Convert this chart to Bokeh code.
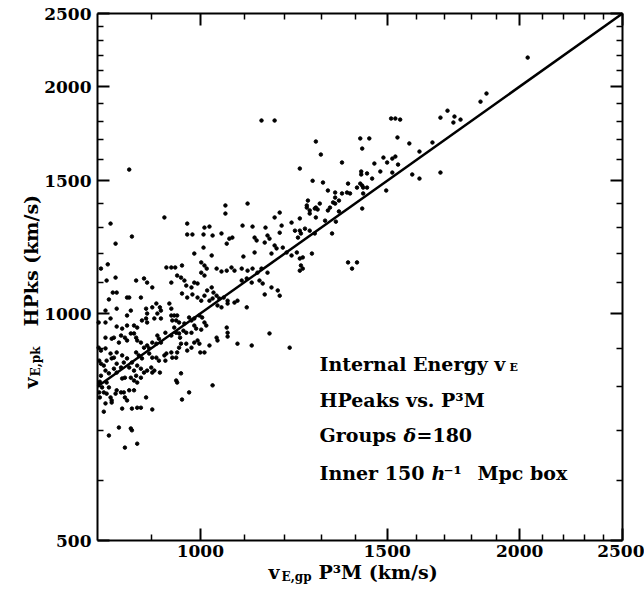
import math
from bokeh.plotting import figure
from bokeh.models import Range1d, FixedTicker, LogAxis, Label, CustomJSTickFormatter, NumeralTickFormatter
from bokeh.embed import file_html
from bokeh.resources import INLINE

# v_E of groups: P3M (x) vs HPeaks (y), km/s
v_gp = [2035, 1861, 1837, 1684, 1710, 1736, 1732, 1759, 1513, 1527, 1543, 1285, 1299, 1415, 1443, 1421,
        1534, 1574, 1655, 1609, 1488, 1500, 1517, 1527, 1459, 1360, 1478, 1517, 1536, 1418, 1418, 1436,
        1452, 1584, 1609, 1684, 1241, 1276, 1305, 1319, 1340, 1340, 1360, 1375, 1384, 1378, 1405, 1415,
        1421, 1424, 1436, 1424, 1497, 1334, 1351, 1296, 1285, 1290, 1260, 1263, 1268, 1241, 1325, 1351,
        1342, 1421, 1285, 1241, 1255, 1268, 1331, 1244,
        925, 823, 862, 832, 806, 818, 816, 832, 972, 1056, 1056, 1108, 1009, 1020, 972, 983,
        1007, 1027, 1047, 987, 1025, 1007, 1059, 1065, 1072, 1096, 1120, 1152, 1175, 1188, 1125, 1130,
        1157, 1162, 1188, 1193, 1219, 1228, 1236, 1150, 1175, 1098, 1125, 1167, 1180, 1196, 1206, 1219,
        1233, 1241, 1249, 1274, 1244, 1249, 1241, 1282, 1311, 1319, 1340, 1268, 1260, 1282,
        961, 947, 929, 939, 1009, 1002, 1014, 1036, 1047, 1059, 1070, 1077, 1094, 1108, 1120, 1132,
        1142, 1157, 1094, 1106, 1118, 1137, 1145, 1167, 1183, 1188, 1150, 870, 885, 891, 901, 853,
        857, 820, 827, 834, 879, 939, 951, 959, 966, 970, 981, 987, 994, 1002, 1009, 961,
        972, 983, 994, 1002, 1009, 1015, 1025, 1029, 1020, 1027, 1036, 1042, 1052, 1038, 1047, 1061,
        1061, 1077, 1084, 1106, 814, 834, 853, 860, 889, 891, 901, 909, 916, 918, 935, 939,
        945, 951, 911, 905, 918, 802, 814, 823, 834, 844, 853, 866, 872, 881, 889, 891,
        939, 941, 949, 955, 966, 976, 981, 987, 998, 1004, 964, 970, 981, 987, 991, 1002,
        1009, 1013, 955, 957, 945, 949, 927, 939, 911, 914, 918, 901, 909, 891, 895, 885,
        872, 879, 866, 870, 860, 849, 853, 842, 838, 825, 829, 814, 802, 806, 814, 823,
        829, 834, 844, 853, 862, 870, 875, 881, 895, 901, 909, 914, 925, 929, 927, 939,
        941, 949, 951, 955, 959, 970, 972, 981, 987, 994, 998, 1000, 1009, 1020, 1036, 1038,
        1059, 1061, 1061, 1084, 1118, 1162, 1214, 803, 806, 811, 816, 825, 834, 842, 847, 857,
        866, 870, 872, 879, 885, 891, 899, 901, 905, 916, 806, 814, 820, 829, 834, 844,
        849, 860, 866, 872, 879, 803, 804, 808, 816, 820, 811, 816, 823, 825, 832, 834,
        842, 847, 849, 853, 857, 866, 803, 804, 814, 825, 844, 862, 872, 879, 901, 889,
        951, 949, 959, 976, 961, 1027, 811, 820, 838, 860, 862, 849, 872,
        857, 1142, 1175, 1378, 1390, 1405]

v_pk = [2185, 1958, 1910, 1819, 1858, 1825, 1792, 1808, 1814, 1814, 1808, 1691, 1625, 1707, 1707, 1655,
        1712, 1681, 1686, 1640, 1610, 1586, 1605, 1615, 1581, 1586, 1543, 1538, 1576, 1543, 1529, 1534,
        1510, 1529, 1510, 1538, 1557, 1500, 1492, 1456, 1447, 1425, 1443, 1447, 1443, 1487, 1469, 1487,
        1478, 1469, 1469, 1443, 1456, 1404, 1412, 1399, 1382, 1374, 1391, 1412, 1370, 1337, 1382, 1366,
        1324, 1378, 1341, 1288, 1296, 1288, 1277, 1277,
        1341, 1316, 1265, 1238, 1147, 1162, 1106, 1116, 1316, 1391, 1357, 1399, 1300, 1304, 1273, 1273,
        1273, 1269, 1277, 1201, 1194, 1223, 1238, 1257, 1261, 1308, 1304, 1300, 1341, 1361, 1261, 1250,
        1269, 1257, 1280, 1308, 1320, 1288, 1261, 1242, 1231, 1190, 1205, 1201, 1220, 1223, 1205, 1194,
        1205, 1183, 1187, 1201, 1158, 1147, 1140, 1277, 1328, 1370, 1399, 1357, 1382, 1378,
        1158, 1151, 1151, 1151, 1158, 1169, 1147, 1147, 1137, 1140, 1151, 1140, 1147, 1140, 1147, 1133,
        1147, 1133, 1106, 1113, 1099, 1106, 1096, 1083, 1073, 1056, 1060, 1106, 1113, 1099, 1083, 1050,
        1050, 1044, 1066, 1066, 1050, 1099, 1123, 1116, 1106, 1089, 1083, 1099, 1096, 1133, 1123, 1063,
        1050, 1060, 1050, 1040, 1056, 1073, 1083, 1066, 1040, 1047, 1056, 1047, 1050, 1025, 1019, 1040,
        1031, 1034, 1040, 1019, 1009, 1015, 994, 1009, 1015, 1000, 1019, 1031, 1019, 1009, 1031, 1015,
        994, 994, 1000, 985, 985, 973, 973, 985, 961, 955, 964, 964, 958, 979, 985, 973,
        994, 979, 979, 973, 970, 988, 979, 985, 994, 988, 949, 943, 943, 964, 955, 952,
        973, 964, 941, 929, 958, 943, 943, 935, 935, 926, 915, 915, 912, 907, 899, 901,
        921, 915, 941, 929, 941, 929, 921, 935, 915, 926, 929, 929, 901, 893, 899, 885,
        874, 888, 880, 872, 861, 888, 880, 872, 885, 874, 874, 866, 880, 885, 866, 888,
        874, 874, 888, 901, 912, 912, 893, 901, 915, 921, 912, 888, 888, 907, 929, 921,
        958, 943, 932, 912, 907, 941, 901, 866, 858, 853, 866, 872, 858, 848, 861, 848,
        840, 827, 853, 845, 835, 840, 848, 835, 840, 835, 827, 840, 833, 845, 835, 820,
        822, 822, 815, 810, 822, 808, 812, 798, 810, 798, 786, 783, 774, 767, 783, 791,
        786, 786, 774, 767, 791, 791, 786, 774, 760, 762, 748, 748, 750, 750, 746, 774,
        810, 815, 833, 786, 769, 803, 741, 689, 706, 704, 700, 664, 672,
        1552, 1803, 1803, 1169, 1147, 1169]

# one-to-one reference line (km/s)
line_v = [800, 2500]

x_lim = [800, 2500]
y_lim = [500, 2500]
x_major = [1000, 1500, 2000, 2500]
x_minor = [900, 1100, 1200, 1300, 1400, 1600, 1700, 1800, 1900, 2100, 2200, 2300, 2400]
y_major = [500, 1000, 1500, 2000, 2500]
y_minor = [600, 700, 800, 900, 1100, 1200, 1300, 1400, 1600, 1700, 1800, 1900, 2100, 2200, 2300, 2400]

FONT = "DejaVu Serif"
W, H = 644, 593
# pixel margins of the boxed plot area inside the canvas
ML, MR, MT, MB = 97, 22, 13, 53

# The drawing frame covers the whole canvas so that titles outside the box are not clipped;
# the ranges are widened so the box [x_lim] x [y_lim] lands at the margins above.
dx = math.log10(x_lim[1] / x_lim[0]) / (W - ML - MR)
dy = math.log10(y_lim[1] / y_lim[0]) / (H - MT - MB)
x_rng = Range1d(x_lim[0] * 10 ** (-ML * dx), x_lim[1] * 10 ** (MR * dx))
y_rng = Range1d(y_lim[0] * 10 ** (-MB * dy), y_lim[1] * 10 ** (MT * dy))

p = figure(width=W, height=H, x_axis_type="log", y_axis_type="log",
           x_range=x_rng, y_range=y_rng,
           output_backend="svg", toolbar_location=None, min_border=0)
p.grid.visible = False
p.outline_line_color = None
p.background_fill_color = "white"
p.border_fill_color = "white"

def style(ax, labels=True):
    ax.axis_line_width = 2
    ax.axis_line_color = "black"
    ax.major_tick_line_width = 2
    ax.minor_tick_line_width = 1.5
    ax.major_tick_in = 12
    ax.major_tick_out = 0
    ax.minor_tick_in = 6
    ax.minor_tick_out = 0
    ax.major_label_text_font = FONT
    ax.major_label_text_font_style = "bold"
    ax.major_label_text_font_size = "17px"
    ax.major_label_text_color = "black"
    if not labels:
        ax.formatter = CustomJSTickFormatter(code="return ''")
        ax.major_label_standoff = 0
        ax.major_label_text_font_size = "1px"

bx = p.xaxis[0]
by = p.yaxis[0]
bx.ticker = FixedTicker(ticks=x_major, minor_ticks=x_minor)
by.ticker = FixedTicker(ticks=y_major, minor_ticks=y_minor)
bx.formatter = NumeralTickFormatter(format="0")
by.formatter = NumeralTickFormatter(format="0")
style(bx)
style(by)
bx.major_label_standoff = 4
by.major_label_standoff = 6
bx.fixed_location = y_lim[0]
by.fixed_location = x_lim[0]
bx.bounds = tuple(x_lim)
by.bounds = tuple(y_lim)

top = LogAxis(ticker=FixedTicker(ticks=x_major, minor_ticks=x_minor),
              fixed_location=y_lim[1], bounds=tuple(x_lim))
right = LogAxis(ticker=FixedTicker(ticks=y_major, minor_ticks=y_minor),
                fixed_location=x_lim[1], bounds=tuple(y_lim))
style(top, labels=False)
style(right, labels=False)
p.add_layout(top, "above")
p.add_layout(right, "right")

p.line(line_v, line_v, line_width=2.5, color="black")
p.scatter(v_gp, v_pk, size=3.5, color="black")

def lab(text, x, y, size="19px", angle=0, style="bold"):
    p.add_layout(Label(x=x, y=y, x_units="screen", y_units="screen", text=text,
                       text_font=FONT, text_font_style=style, text_font_size=size,
                       text_color="black", angle=angle, text_align="left",
                       text_baseline="alphabetic"))

# annotation block
lab("Internal Energy v", 319, 230)
lab("E", 509, 226, size="11px")
lab("HPeaks vs. P\u00b3M", 319, 194)
lab("Groups", 319, 159)
lab("\u03b4", 403, 159, style="bold italic")
lab("=180", 416, 159)
lab("Inner 150", 319, 121)
lab("h", 431, 121, style="bold italic")
lab("\u207b\u00b9", 443, 121)
lab("Mpc box", 477, 121)

# x axis title
lab("v", 268, 22)
lab("E,gp", 281, 17, size="12px")
lab("P\u00b3M (km/s)", 318, 22)

# y axis title
lab("v", 30, 205, angle=math.pi / 2)
lab("E,pk", 35, 217, size="12px", angle=math.pi / 2)
lab("HPks (km/s)", 30, 267, angle=math.pi / 2)

open("out.html", "w").write(file_html(p, INLINE))
